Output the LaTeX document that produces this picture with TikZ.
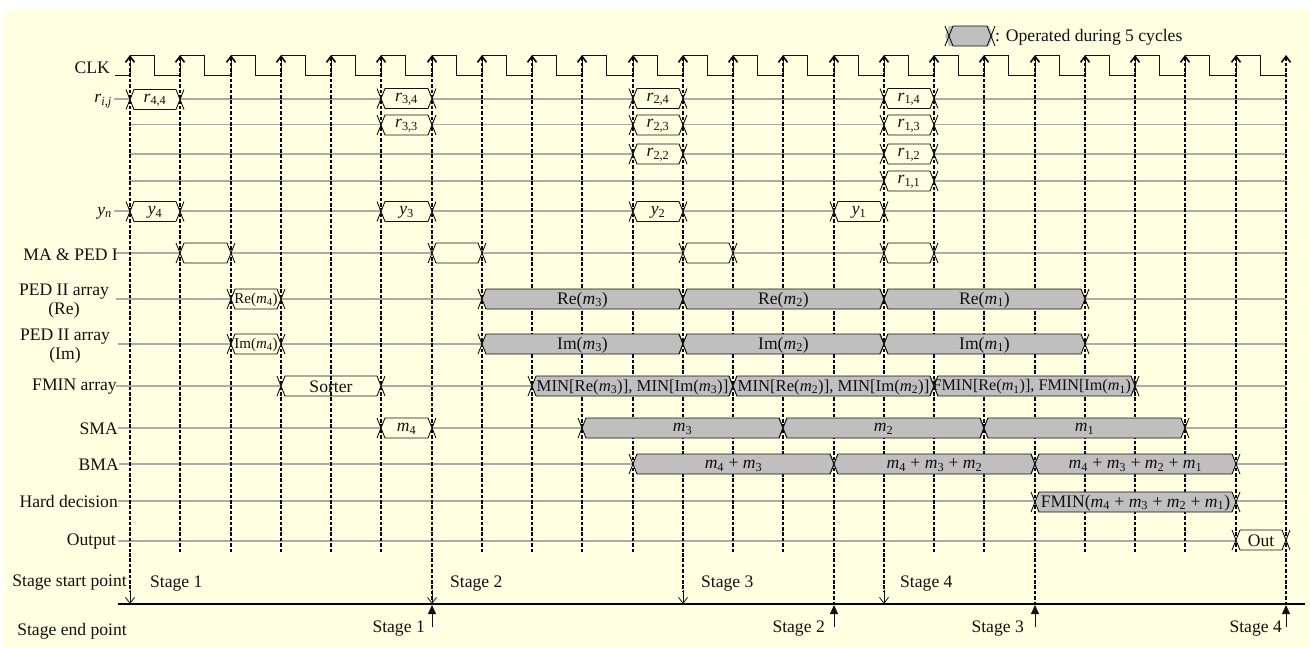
\documentclass[tikz,border=0pt]{standalone}
\usepackage{fontspec}
\setmainfont{Liberation Serif}
\usepackage{xcolor}
\usetikzlibrary{arrows.meta}
\definecolor{cBg}{HTML}{FFFFE1}
\definecolor{cFill}{HTML}{BFBFBF}
\definecolor{cRow}{HTML}{ABABAB}
\definecolor{cEdge}{HTML}{111111}
\newcommand{\sig}[2]{\textit{#1}\textsubscript{#2}}
\newcommand{\clkx}[1]{\pgfmathsetmacro{\cx}{round(130+50.25*#1)}}
\tikzset{
  >={Straight Barb[length=6pt,width=9pt]},
  lab/.style={font=\fontsize{17.6}{19.5}\selectfont,inner sep=0pt,text=cEdge,yshift=-1pt},
  labr/.style={lab,anchor=east},
  labl/.style={lab,anchor=west},
  small/.style={lab,font=\fontsize{15}{17}\selectfont},
  tight/.style={lab,font=\fontsize{16.7}{18}\selectfont},
  tighter/.style={lab,font=\fontsize{16.2}{18}\selectfont},
  rowln/.style={cRow,line width=1.1pt},
  clkln/.style={cEdge,line width=1pt},
  tickln/.style={<-,black,line width=1.6pt,dash pattern=on 3.6pt off 1.8pt},
  hexln/.style={cEdge,line width=0.9pt},
  hexw/.style={fill=cBg},
  hexg/.style={fill=cFill},
  upar/.style={-{Triangle[length=9pt,width=8pt]},cEdge,line width=0.8pt},
  dnar/.style={->,cEdge,line width=0.8pt},
}
% hexagon between two clock edges: name, from, to, row, fill, label style, text
\newcommand{\hexbox}[7]{%
  \pgfmathsetmacro{\xa}{round(130+50.25*#2)}\pgfmathsetmacro{\xb}{round(130+50.25*#3)}%
  \pgfmathsetmacro{\xm}{(\xa+\xb)/2}%
  \fill[#5] (\xa,#4) -- (\xa+4,#4-10) -- (\xb-4,#4-10) -- (\xb,#4) -- (\xb-4,#4+10) -- (\xa+4,#4+10) -- cycle;
  \draw[hexln] (\xa-4,#4-10) -- (\xa+4,#4+10) -- (\xb-4,#4+10) -- (\xb+4,#4-10);
  \draw[hexln] (\xa-4,#4+10) -- (\xa+4,#4-10) -- (\xb-4,#4-10) -- (\xb+4,#4+10);
  \node[#6] (#1) at (\xm,#4) {#7};
}
\begin{document}
\begin{tikzpicture}[x=1pt,y=-1pt]
  \useasboundingbox (0,0) rectangle (1310,648);
  \fill[white] (0,0) rectangle (1310,648);
  \fill[cBg] (4,9) rectangle (1310,648);
  % signal rows
  \foreach \ya/\xs in {99/114,124.5/130,154/130,181/130,211/114,253/115,299/116,344/118,386/116,428/118,464/119,501/118,541/118}
    \draw[rowln] (\xs,\ya) -- (1286,\ya);
  % clock
  \draw[clkln] (115,75) -- (130,75);
  \foreach \i in {0,...,22} {
    \clkx{\i}
    \draw[clkln] (\cx,75) -- (\cx,55) -- (\cx+24,55) -- (\cx+24,75) -- (\cx+51,75);
  }
  \foreach \i in {0,...,23} {
    \clkx{\i}
    \draw[tickln] (\cx,55) -- (\cx,553);
  }
  % stage start and end marks
  \foreach \i in {0,6,11,15} {
    \clkx{\i}
    \draw[tickln,-] (\cx,553) -- (\cx,592);
    \draw[dnar] (\cx,590) -- (\cx,604);
  }
  \foreach \i in {6,14,18,23} {
    \clkx{\i}
    \draw[tickln,-] (\cx,553) -- (\cx,604);
    \draw[upar] (\cx,627) -- (\cx,605);
  }
  \draw[black,line width=1.6pt] (118,604) -- (1305,604);
  % operations
  \foreach \nm/\a/\b/\ya/\fl/\st/\txt in {
    ra/0/1/99.5/hexw/lab/{\sig{r}{4,4}}, rb/5/6/98.5/hexw/lab/{\sig{r}{3,4}}, rc/10/11/98.5/hexw/lab/{\sig{r}{2,4}}, rd/15/16/98.5/hexw/lab/{\sig{r}{1,4}},
    re/5/6/125/hexw/lab/{\sig{r}{3,3}}, rf/10/11/125/hexw/lab/{\sig{r}{2,3}}, rg/15/16/125/hexw/lab/{\sig{r}{1,3}},
    rh/10/11/154/hexw/lab/{\sig{r}{2,2}}, ri/15/16/154/hexw/lab/{\sig{r}{1,2}},
    rj/15/16/181/hexw/lab/{\sig{r}{1,1}},
    ya/0/1/211.5/hexw/lab/{\sig{y}{4}}, yb/5/6/211.5/hexw/lab/{\sig{y}{3}}, yc/10/11/211.5/hexw/lab/{\sig{y}{2}}, yd/14/15/211.5/hexw/lab/{\sig{y}{1}},
    ma/1/2/253/hexw/lab/{}, mb/6/7/253/hexw/lab/{}, mc/11/12/253/hexw/lab/{}, md/15/16/253/hexw/lab/{},
    pa/2/3/299/hexw/small/{Re(\sig{m}{4})}, pb/7/11/299/hexg/lab/{Re(\sig{m}{3})}, pc/11/15/299/hexg/lab/{Re(\sig{m}{2})}, pd/15/19/299/hexg/lab/{Re(\sig{m}{1})},
    qa/2/3/344/hexw/small/{Im(\sig{m}{4})}, qb/7/11/344/hexg/lab/{Im(\sig{m}{3})}, qc/11/15/344/hexg/lab/{Im(\sig{m}{2})}, qd/15/19/344/hexg/lab/{Im(\sig{m}{1})},
    fa/3/5/386/hexw/lab/{Sorter},
    fb/8/12/386/hexg/tight/{MIN[Re(\sig{m}{3})], MIN[Im(\sig{m}{3})]}, fc/12/16/386/hexg/tight/{MIN[Re(\sig{m}{2})], MIN[Im(\sig{m}{2})]}, fd/16/20/386/hexg/tighter/{FMIN[Re(\sig{m}{1})], FMIN[Im(\sig{m}{1})]},
    sa/5/6/428/hexw/lab/{\sig{m}{4}}, sb/9/13/428/hexg/lab/{\sig{m}{3}}, sc/13/17/428/hexg/lab/{\sig{m}{2}}, sd/17/21/428/hexg/lab/{\sig{m}{1}},
    ba/10/14/464/hexg/lab/{\sig{m}{4} + \sig{m}{3}}, bb/14/18/464/hexg/lab/{\sig{m}{4} + \sig{m}{3} + \sig{m}{2}}, bc/18/22/464/hexg/lab/{\sig{m}{4} + \sig{m}{3} + \sig{m}{2} + \sig{m}{1}},
    ha/18/22/502/hexg/lab/{FMIN(\sig{m}{4} + \sig{m}{3} + \sig{m}{2} + \sig{m}{1})},
    oa/22/23/540/hexw/lab/{Out}}
    \hexbox{\nm}{\a}{\b}{\ya}{\fl}{\st}{\txt}
  \draw[tickln,-] (331,376) -- (331,396);
  % legend
  \fill[cFill] (949,26) -- (989,26) -- (993,36) -- (989,46) -- (949,46) -- (945,36) -- cycle;
  \draw[hexln] (945,26) -- (953,46) -- (987,46) -- (995,26);
  \draw[hexln] (945,46) -- (953,26) -- (987,26) -- (995,46);
  \node[labl] (legend) at (995,36) {: Operated during 5 cycles};
  % row names
  \node[labr] (lclk) at (110,67) {CLK};
  \node[labr] (lr) at (112,100) {\sig{r}{\textit{i,j}}};
  \node[labr] (ly) at (112,212) {\sig{y}{\textit{n}}};
  \node[labr] (lma) at (118,254) {MA \& PED I};
  \node[lab,align=center] (lre) at (64,300) {PED II array\\(Re)};
  \node[lab,align=center] (lim) at (65,345) {PED II array\\(Im)};
  \node[labr] (lfm) at (117,386) {FMIN array};
  \node[labr] (lsm) at (118,428) {SMA};
  \node[labr] (lbm) at (119,464) {BMA};
  \node[labr] (lhd) at (118,500) {Hard decision};
  \node[labr] (lou) at (116,541) {Output};
  \node[labr] (lst) at (127,582) {Stage start point};
  \node[labr] (len) at (127,630) {Stage end point};
  % stage names
  \foreach \nm/\xp/\txt in {sta/150/Stage 1,stb/450/Stage 2,stc/701/Stage 3,std/900/Stage 4}
    \node[labl] (\nm) at (\xp,583) {\txt};
  \foreach \nm/\xp/\txt in {ena/425/Stage 1,enb/825/Stage 2,enc/1024/Stage 3,end4/1282/Stage 4}
    \node[labr] (\nm) at (\xp,628) {\txt};
\end{tikzpicture}
\end{document}
